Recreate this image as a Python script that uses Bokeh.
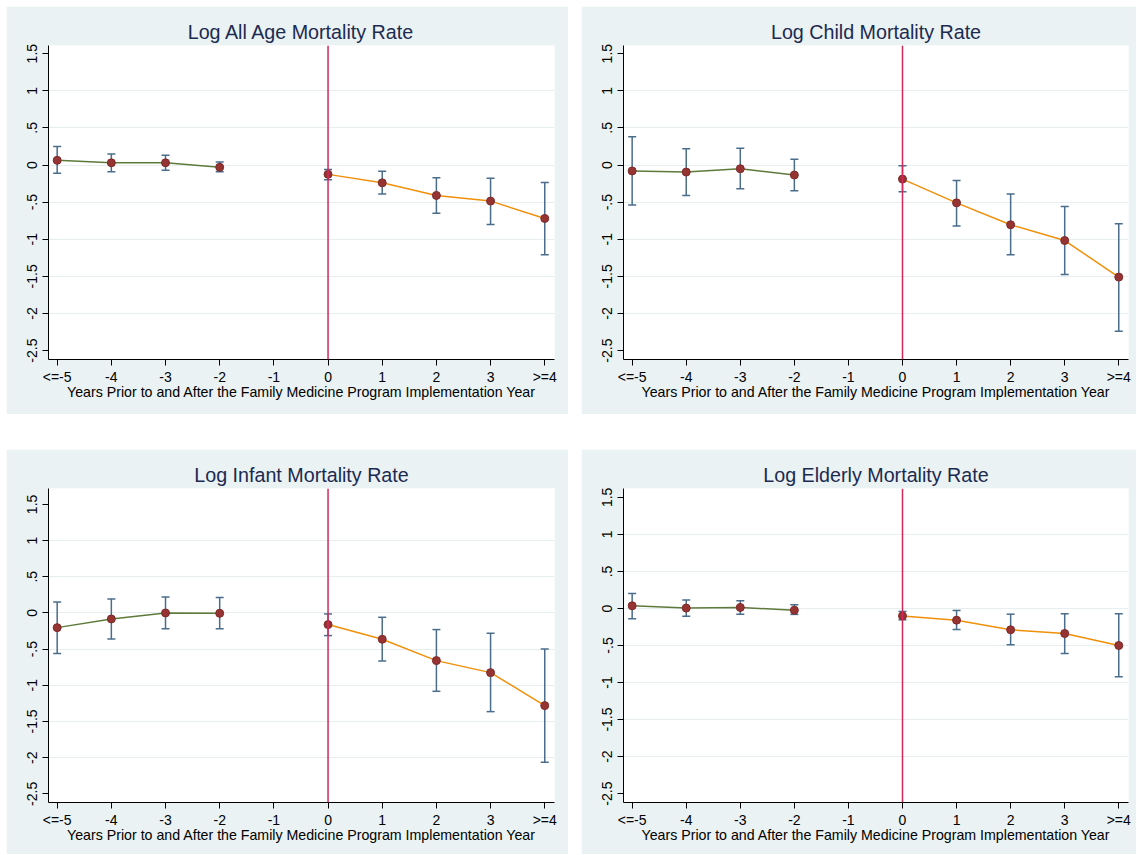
from bokeh.plotting import figure
from bokeh.models import ColumnDataSource, FixedTicker, Span, Whisker, TeeHead, Range1d, Spacer
from bokeh.layouts import row, column
from bokeh.embed import file_html
from bokeh.resources import INLINE

# ---- data ----
pre_years = [-5, -4, -3, -2]
post_years = [0, 1, 2, 3, 4]
x_tick_values = [-5, -4, -3, -2, -1, 0, 1, 2, 3, 4]
x_tick_labels = ["<=-5", "-4", "-3", "-2", "-1", "0", "1", "2", "3", ">=4"]
y_tick_values = [1.5, 1, 0.5, 0, -0.5, -1, -1.5, -2, -2.5]
y_tick_labels = ["1.5", "1", ".5", "0", "-.5", "-1", "-1.5", "-2", "-2.5"]
x_axis_title = "Years Prior to and After the Family Medicine Program Implementation Year"

titles = ["Log All Age Mortality Rate", "Log Child Mortality Rate",
          "Log Infant Mortality Rate", "Log Elderly Mortality Rate"]

# coefficient / lower CI / upper CI, order: -5,-4,-3,-2,0,1,2,3,4
all_age_coef = [0.063, 0.03, 0.03, -0.03, -0.126, -0.24, -0.41, -0.486, -0.72]
all_age_lo = [-0.11, -0.09, -0.07, -0.09, -0.20, -0.39, -0.65, -0.80, -1.21]
all_age_hi = [0.25, 0.15, 0.13, 0.04, -0.06, -0.085, -0.17, -0.18, -0.234]

child_coef = [-0.08, -0.095, -0.05, -0.135, -0.19, -0.51, -0.805, -1.017, -1.51]
child_lo = [-0.54, -0.41, -0.32, -0.346, -0.36, -0.82, -1.21, -1.475, -2.24]
child_hi = [0.38, 0.22, 0.225, 0.076, -0.01, -0.21, -0.39, -0.56, -0.79]

infant_coef = [-0.203, -0.083, 0.0, -0.005, -0.161, -0.364, -0.659, -0.825, -1.281]
infant_lo = [-0.562, -0.36, -0.22, -0.22, -0.313, -0.664, -1.083, -1.364, -2.065]
infant_hi = [0.152, 0.194, 0.22, 0.212, -0.014, -0.06, -0.23, -0.281, -0.498]

elderly_coef = [0.036, 0.005, 0.014, -0.023, -0.10, -0.158, -0.288, -0.338, -0.50]
elderly_lo = [-0.14, -0.104, -0.077, -0.08, -0.153, -0.284, -0.49, -0.608, -0.923]
elderly_hi = [0.203, 0.113, 0.104, 0.05, -0.04, -0.027, -0.077, -0.072, -0.072]

series = [(all_age_coef, all_age_lo, all_age_hi),
          (child_coef, child_lo, child_hi),
          (infant_coef, infant_lo, infant_hi),
          (elderly_coef, elderly_lo, elderly_hi)]

y_ranges = [(-2.62, 1.61), (-2.62, 1.61), (-2.62, 1.72), (-2.62, 1.62)]

# ---- styling ----
FONT = "Liberation Sans"
PANEL_BG = "#eaf2f3"
GRID = "#e6eef0"
TITLE_C = "#1c2a50"
RED = "#d42a5b"
GREEN = "#5d7a3a"
ORANGE = "#f0900a"
MARK = "#963434"
ERR = "#4a6d8c"

# panel geometry: (width, height, left, right, top, bottom)
geoms = [(562, 408, 42, 14, 39, 55),
         (555, 408, 42, 8, 39, 55),
         (562, 405, 42, 14, 39, 52),
         (555, 405, 42, 8, 39, 52)]


def make_panel(i):
    coef, lo, hi = series[i]
    w, h, bl, br, bt, bb = geoms[i]
    p = figure(width=w, height=h, output_backend="svg", toolbar_location=None,
               min_border_left=bl, min_border_right=br, min_border_top=bt,
               min_border_bottom=bb,
               x_range=Range1d(-5.16, 4.18), y_range=Range1d(*y_ranges[i]),
               background_fill_color="white", border_fill_color=PANEL_BG,
               title=titles[i])
    p.outline_line_color = None
    p.title.align = "center"
    p.title.text_font = FONT
    p.title.text_font_size = "19.7px"
    p.title.text_font_style = "normal"
    p.title.text_color = TITLE_C
    p.title.standoff = 6

    # axes
    p.xaxis.ticker = FixedTicker(ticks=x_tick_values)
    p.xaxis.major_label_overrides = {v: l for v, l in zip(x_tick_values, x_tick_labels)}
    p.yaxis.ticker = FixedTicker(ticks=y_tick_values)
    p.yaxis.major_label_overrides = {v: l for v, l in zip(y_tick_values, y_tick_labels)}
    p.yaxis.major_label_orientation = "vertical"
    p.xaxis.axis_label = x_axis_title
    for ax in (p.xaxis, p.yaxis):
        ax.axis_line_color = "black"
        ax.major_tick_line_color = "black"
        ax.minor_tick_line_color = None
        ax.major_tick_out = 6
        ax.major_tick_in = 0
        ax.major_label_text_font = FONT
        ax.major_label_text_font_size = "14px"
        ax.major_label_text_color = "black"
        ax.axis_label_text_font = FONT
        ax.axis_label_text_font_size = "14.2px"
        ax.axis_label_text_font_style = "normal"
        ax.axis_label_text_color = "black"
    p.xaxis.major_label_standoff = 3
    p.xaxis.axis_label_standoff = -4
    p.yaxis.major_label_standoff = 5

    p.xgrid.grid_line_color = None
    p.ygrid.ticker = FixedTicker(ticks=[v for v in y_tick_values if -2.5 < v < 1.5])
    p.ygrid.grid_line_color = GRID
    p.ygrid.grid_line_width = 1

    # reference line at year 0
    p.add_layout(Span(location=0, dimension="height", line_color=RED, line_width=1.5))

    n_pre = len(pre_years)
    years = pre_years + post_years
    src = ColumnDataSource(dict(x=years, y=coef, lo=lo, hi=hi))
    wh = Whisker(base="x", lower="lo", upper="hi", source=src, dimension="height",
                 line_color=ERR, line_width=1.5,
                 upper_head=TeeHead(size=8, line_color=ERR, line_width=1.5),
                 lower_head=TeeHead(size=8, line_color=ERR, line_width=1.5))
    p.add_layout(wh)

    p.line(pre_years, coef[:n_pre], line_color=GREEN, line_width=1.5)
    p.line(post_years, coef[n_pre:], line_color=ORANGE, line_width=1.5)
    p.scatter("x", "y", source=src, size=8, fill_color=MARK, line_color="#7e2a2a",
              line_width=1)
    return p


panels = [make_panel(i) for i in range(4)]
layout = column(
    Spacer(height=6),
    row(Spacer(width=6), panels[0], Spacer(width=13), panels[1]),
    Spacer(height=35),
    row(Spacer(width=6), panels[2], Spacer(width=13), panels[3]),
)

open("out.html", "w").write(file_html(layout, INLINE))
